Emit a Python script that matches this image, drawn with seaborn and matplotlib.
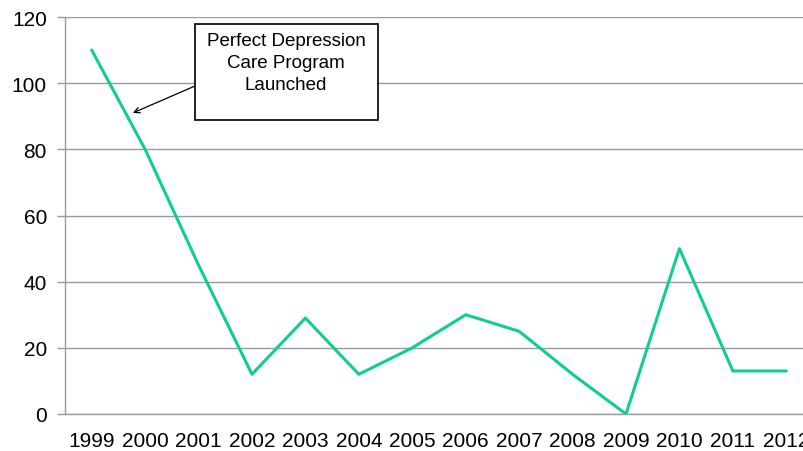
import matplotlib
matplotlib.use('Agg')
import seaborn as sns
import matplotlib.pyplot as plt
from matplotlib.patches import Rectangle
import pandas as pd

# chart data
years = ['1999', '2000', '2001', '2002', '2003', '2004', '2005',
         '2006', '2007', '2008', '2009', '2010', '2011', '2012']
values = [110, 80, 45, 12, 29, 12, 20, 30, 25, 12, 0, 50, 13, 13]
y_ticks = [0, 20, 40, 60, 80, 100, 120]

df = pd.DataFrame({'year': years, 'value': values})

sns.set_style('white')
plt.rcParams['font.family'] = ['Liberation Sans', 'DejaVu Sans']
plt.rcParams['text.color'] = 'black'

fig = plt.figure(figsize=(8.04, 4.52), dpi=100)
# plot area runs past the right edge, like the cropped original
ax = fig.add_axes([65 / 804, 37 / 452, 748 / 804, 397 / 452])

sns.lineplot(data=df, x='year', y='value', ax=ax, color='#10CC96',
             linewidth=2.2, sort=False)

ax.set_xlim(-0.5, len(years) - 0.5)
ax.set_ylim(0, 120)
ax.set_yticks(y_ticks)
ax.set_xticks(range(len(years)))
ax.set_xticklabels(years)
ax.set_xticks([i - 0.5 for i in range(len(years) + 1)], minor=True)
ax.set_xlabel('')
ax.set_ylabel('')

ax.grid(axis='y', color='#9A9A9A', linewidth=1.0)
ax.set_axisbelow(True)
for side in ['top', 'right']:
    ax.spines[side].set_visible(False)
for side in ['left', 'bottom']:
    ax.spines[side].set_color('#9A9A9A')
    ax.spines[side].set_linewidth(1.0)

ax.tick_params(axis='x', which='major', length=0, pad=12, labelsize=15,
               labelcolor='black')
ax.tick_params(axis='x', which='minor', length=6, color='#9A9A9A', width=1)
ax.tick_params(axis='y', length=6, color='#9A9A9A', width=1, pad=7,
               labelsize=15, left=True, labelcolor='black')

# callout box (text sits high in the box, like the original text box)
fig.add_artist(Rectangle((195 / 804, 331 / 452), 183 / 804, 96 / 452,
                         transform=fig.transFigure, facecolor='white',
                         edgecolor='black', linewidth=1.2, zorder=2))
fig.text(286 / 804, 388.5 / 452, 'Perfect Depression\nCare Program\nLaunched',
         ha='center', va='center', fontsize=13.5, linespacing=1.38, zorder=3)
ax.annotate('', xy=(0.77, 91), xycoords='data',
            xytext=(195, 365), textcoords='figure pixels',
            arrowprops=dict(arrowstyle='->', color='black', lw=0.9,
                            shrinkA=0, shrinkB=0))

fig.savefig('out.png', dpi=100)
